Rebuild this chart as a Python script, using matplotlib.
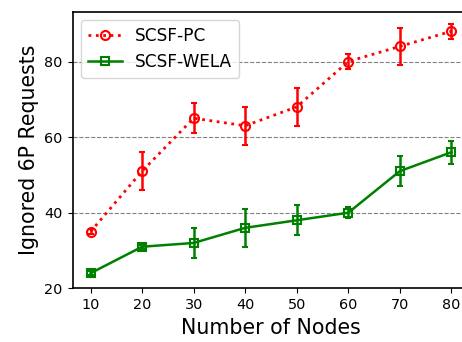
import matplotlib
matplotlib.use("Agg")
import matplotlib.pyplot as plt

# number of nodes in the network
nodes = [10, 20, 30, 40, 50, 60, 70, 80]

# ignored 6P requests (mean and error)
pc_mean = [35, 51, 65, 63, 68, 80, 84, 88]
pc_err = [0.7, 5, 4, 5, 5, 2, 5, 2]
wela_mean = [24, 31, 32, 36, 38, 40, 51, 56]
wela_err = [0.5, 0.5, 4, 5, 4, 1.5, 4, 3]

fig = plt.figure(figsize=(4.62, 3.42), dpi=100)
# axes run past the right edge, like the cropped original
ax = fig.add_axes([0.157, 0.157, 0.859, 0.809])

pc = ax.errorbar(nodes, pc_mean, yerr=pc_err, color="red", linestyle=":",
                 linewidth=2, marker="o", markersize=6.5,
                 markerfacecolor="none", markeredgewidth=1.5, capsize=2.5,
                 elinewidth=1.8, capthick=1.8)
wela = ax.errorbar(nodes, wela_mean, yerr=wela_err, color="green",
                   linestyle="-", linewidth=1.8, marker="s", markersize=6,
                   markerfacecolor="none", markeredgewidth=1.5, capsize=2.5,
                   elinewidth=1.8, capthick=1.8)

ax.set_xlim(6.5, 83.5)
ax.set_ylim(20, 93.2)
ax.set_xticks(nodes)
ax.set_yticks([20, 40, 60, 80])
ax.tick_params(labelsize=10.4)
ax.yaxis.grid(True, linestyle="--", color="gray", linewidth=0.8)
ax.set_axisbelow(True)
for spine in ax.spines.values():
    spine.set_linewidth(1.2)

ax.set_xlabel("Number of Nodes", fontsize=14.8)
ax.set_ylabel("Ignored 6P Requests", fontsize=14.8)
# legend shows only the lines, no error bars
ax.legend([pc[0], wela[0]], ["SCSF-PC", "SCSF-WELA"], loc="upper left",
          fontsize=12.2)

fig.savefig("out.png", dpi=100)
